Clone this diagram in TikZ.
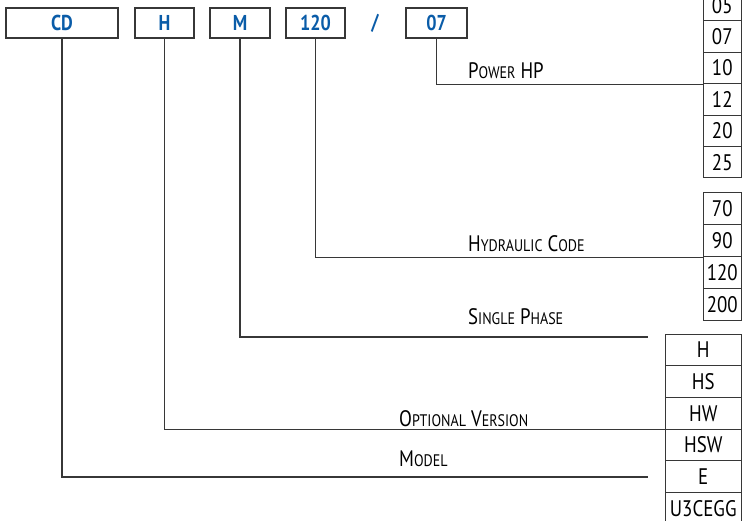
\documentclass[tikz,border=0pt]{standalone}
\usepackage{fontspec}
\setmainfont{PT Sans}[FakeStretch=0.84]
\definecolor{codeblue}{RGB}{10,92,168}
\definecolor{linegray}{RGB}{55,55,55}

\newcommand{\smallcap}[1]{{\fontsize{16.7}{16.7}\selectfont #1}}
\newcommand{\colHP}{722.25}
\newcommand{\colVer}{703.25}

\begin{document}
\begin{tikzpicture}[x=1pt,y=-1pt,
    codebox/.style={draw=linegray,line width=1.1pt,inner sep=0,minimum height=30pt,
      text=codeblue,font=\fontsize{21.5}{21.5}\selectfont\bfseries},
    cellbox/.style={draw=linegray,line width=1pt,inner sep=0,
      font=\fontsize{22.5}{22.5}\selectfont},
    link/.style={draw=linegray,line width=1.2pt},
    caption/.style={inner sep=0,anchor=base west,font=\fontsize{22.4}{22.4}\selectfont}]
    \useasboundingbox (0,0) rectangle (742,521);
    % code boxes
    \node[codebox,minimum width=112pt] (p_cd) at (62,23) {CD};
    \node[codebox,minimum width=59pt] (p_h) at (164.5,23) {H};
    \node[codebox,minimum width=60pt] (p_m) at (240,23) {M};
    \node[codebox,minimum width=59pt] (p_120) at (315.5,23) {120};
    \node[inner sep=0,text=codeblue,font=\fontsize{21.5}{21.5}\selectfont\bfseries] (p_slash) at (375,23) {/};
    \node[codebox,minimum width=61pt] (p_07) at (436.5,23) {07};
    % value columns
    \foreach \val [count=\i] in {05,07,10,12,20,25}
      \node[cellbox,minimum width=38.5pt,minimum height=31.4pt] (hp\i) at (\colHP,{5.3+31.4*(\i-1)}) {\val};
    \foreach \val [count=\i] in {70,90,120,200}
      \node[cellbox,minimum width=38.5pt,minimum height=32pt] (hc\i) at (\colHP,{209+32*(\i-1)}) {\val};
    \foreach \val [count=\i] in {H,HS,HW,HSW,E,U3CEGG}
      \node[cellbox,minimum width=76.5pt,minimum height=31.67pt] (ov\i) at (\colVer,{350+31.67*(\i-1)}) {\val};
    % free ends
    \coordinate (phase_end) at (648,337);
    \coordinate (model_end) at (648,477);
    % connectors
    \draw[link] (p_07.south) |- (hp3.south west);
    \draw[link] (p_120.south) |- (hc2.south west);
    \draw[link] (p_m.south) |- (phase_end);
    \draw[link] (p_h.south) |- (ov3.south west);
    \draw[link] (p_cd.south) |- (model_end);
    % captions
    \node[caption] (power_text) at (468,79) {P\smallcap{OWER} HP};
    \node[caption] (hydr_text) at (468,252) {H\smallcap{YDRAULIC} C\smallcap{ODE}};
    \node[caption] (phase_text) at (468,325) {S\smallcap{INGLE} P\smallcap{HASE}};
    \node[caption] (version_text) at (399,426) {O\smallcap{PTIONAL} V\smallcap{ERSION}};
    \node[caption] (model_text) at (399,466) {M\smallcap{ODEL}};
\end{tikzpicture}
\end{document}
